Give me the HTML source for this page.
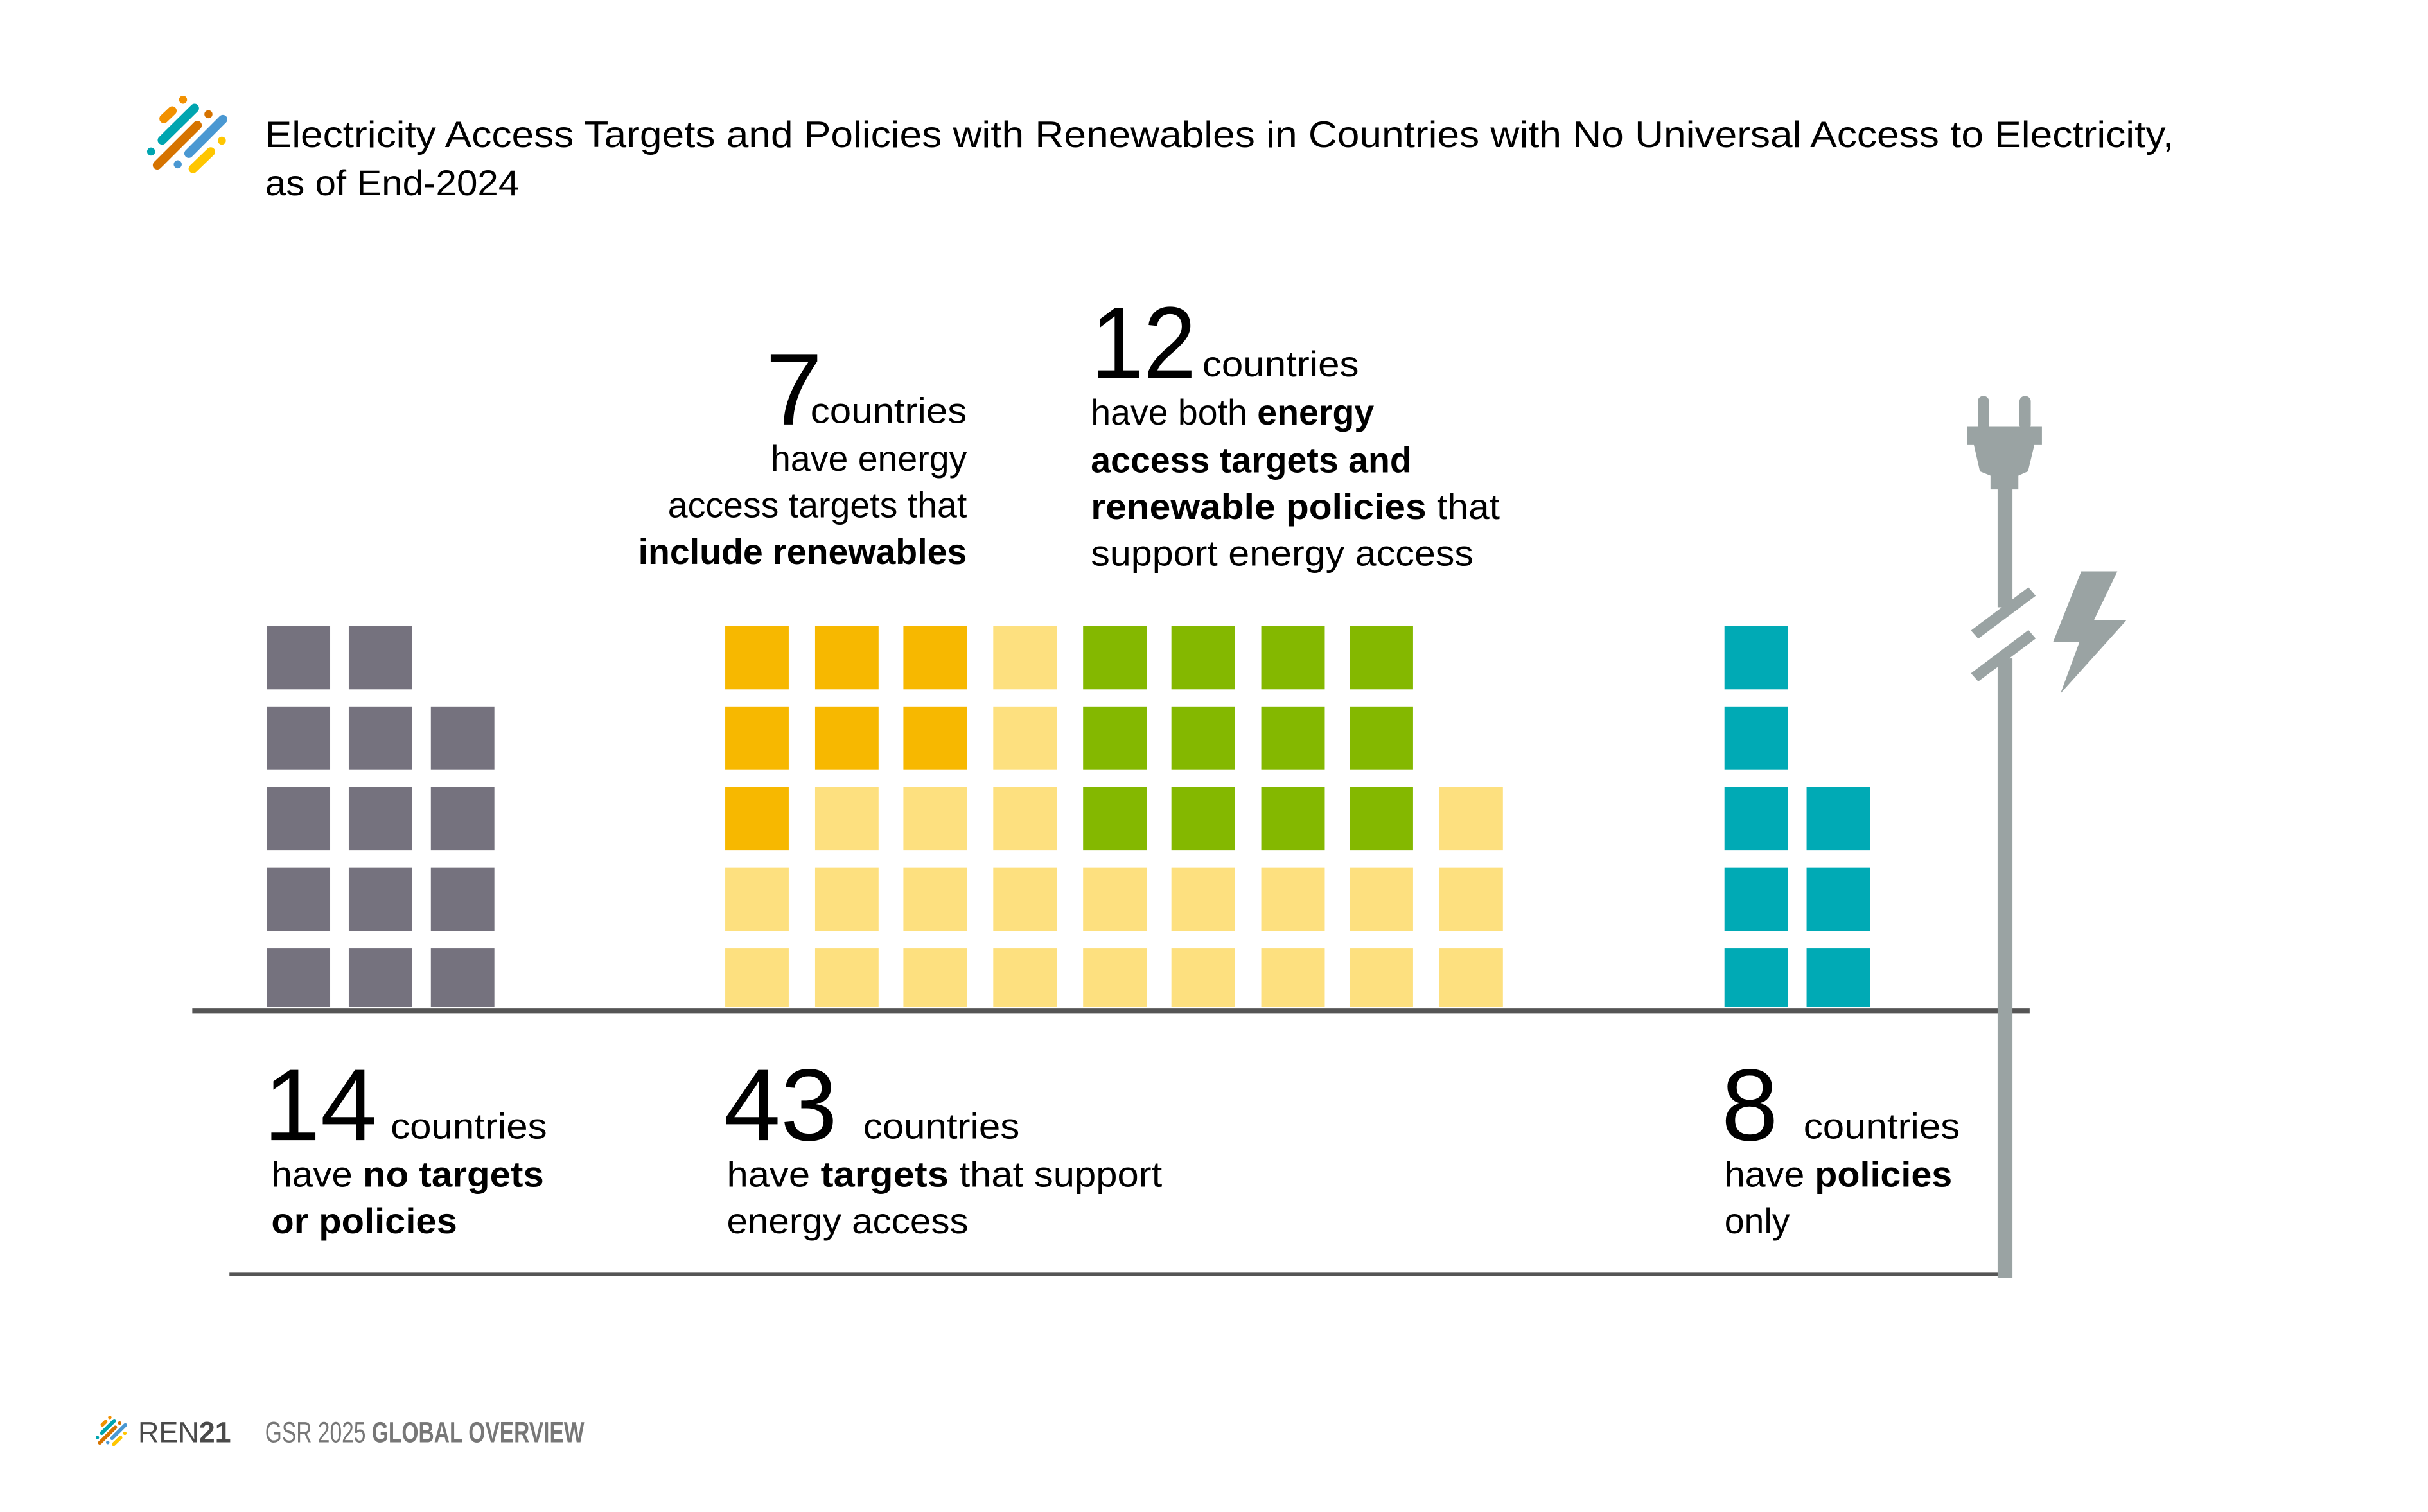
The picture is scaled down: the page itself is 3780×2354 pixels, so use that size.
<!DOCTYPE html>
<html><head><meta charset="utf-8"><style>
html,body{margin:0;padding:0;background:#fff;}
svg{display:block;}
text{font-family:"Liberation Sans",sans-serif;fill:#000;}
</style></head><body>
<svg width="3780" height="2354" viewBox="0 0 1567 976" xmlns="http://www.w3.org/2000/svg">
<rect width="1567" height="976" fill="#fff"/>
<g transform="scale(0.41269)" stroke-linecap="round" fill="none">
<circle cx="286" cy="156" r="6.3" fill="#F29100"/>
<line x1="256" y1="185.7" x2="269" y2="173.3" stroke="#F29100" stroke-width="14"/>
<line x1="253.3" y1="219.3" x2="304" y2="169.3" stroke="#00A5B0" stroke-width="14"/>
<circle cx="325.7" cy="178.7" r="6.3" fill="#D67300"/>
<line x1="245.7" y1="258.3" x2="308.3" y2="196" stroke="#D67300" stroke-width="14"/>
<line x1="295" y1="240" x2="348.3" y2="186.7" stroke="#4A98D2" stroke-width="14"/>
<circle cx="346.7" cy="220" r="6.3" fill="#FFC600"/>
<circle cx="236" cy="237" r="6.3" fill="#00A5B0"/>
<circle cx="277.7" cy="257" r="6.3" fill="#4A98D2"/>
<line x1="301.7" y1="264" x2="329.3" y2="237.3" stroke="#FFC600" stroke-width="14"/>
</g>
<text x="171" y="95" font-size="24" textLength="1232" lengthAdjust="spacingAndGlyphs">Electricity Access Targets and Policies with Renewables in Countries with No Universal Access to Electricity,</text>
<text x="171" y="126" font-size="23" textLength="164" lengthAdjust="spacingAndGlyphs">as of End-2024</text>

<text x="494" y="274" font-size="66">7</text>
<text x="523" y="273" font-size="23" textLength="101" lengthAdjust="spacingAndGlyphs">countries</text>
<g font-size="23" text-anchor="end">
<text x="624" y="304">have energy</text>
<text x="624" y="334">access targets that</text>
<text x="624" y="364" font-weight="bold">include renewables</text>
</g>
<text x="704" y="244" font-size="66" textLength="68" lengthAdjust="spacingAndGlyphs">12</text>
<text x="776" y="243" font-size="23" textLength="101" lengthAdjust="spacingAndGlyphs">countries</text>
<g font-size="23">
<text x="704" y="274">have both <tspan font-weight="bold">energy</tspan></text>
<text x="704" y="305" font-weight="bold">access targets and</text>
<text x="704" y="335" textLength="264" lengthAdjust="spacingAndGlyphs"><tspan font-weight="bold">renewable policies</tspan> that</text>
<text x="704" y="365" textLength="247" lengthAdjust="spacingAndGlyphs">support energy access</text>
</g>

<g fill="#75727E">
<rect x="172" y="404" width="41" height="41"/><rect x="225" y="404" width="41" height="41"/>
<rect x="172" y="456" width="41" height="41"/><rect x="225" y="456" width="41" height="41"/><rect x="278" y="456" width="41" height="41"/>
<rect x="172" y="508" width="41" height="41"/><rect x="225" y="508" width="41" height="41"/><rect x="278" y="508" width="41" height="41"/>
<rect x="172" y="560" width="41" height="41"/><rect x="225" y="560" width="41" height="41"/><rect x="278" y="560" width="41" height="41"/>
<rect x="172" y="612" width="41" height="38"/><rect x="225" y="612" width="41" height="38"/><rect x="278" y="612" width="41" height="38"/>
</g>
<g>
<rect x="468" y="404" width="41" height="41" fill="#F7B800"/><rect x="526" y="404" width="41" height="41" fill="#F7B800"/><rect x="583" y="404" width="41" height="41" fill="#F7B800"/><rect x="641" y="404" width="41" height="41" fill="#FDE07F"/>
<rect x="699" y="404" width="41" height="41" fill="#84B800"/><rect x="756" y="404" width="41" height="41" fill="#84B800"/><rect x="814" y="404" width="41" height="41" fill="#84B800"/><rect x="871" y="404" width="41" height="41" fill="#84B800"/>
<rect x="468" y="456" width="41" height="41" fill="#F7B800"/><rect x="526" y="456" width="41" height="41" fill="#F7B800"/><rect x="583" y="456" width="41" height="41" fill="#F7B800"/><rect x="641" y="456" width="41" height="41" fill="#FDE07F"/>
<rect x="699" y="456" width="41" height="41" fill="#84B800"/><rect x="756" y="456" width="41" height="41" fill="#84B800"/><rect x="814" y="456" width="41" height="41" fill="#84B800"/><rect x="871" y="456" width="41" height="41" fill="#84B800"/>
<rect x="468" y="508" width="41" height="41" fill="#F7B800"/><rect x="526" y="508" width="41" height="41" fill="#FDE07F"/><rect x="583" y="508" width="41" height="41" fill="#FDE07F"/><rect x="641" y="508" width="41" height="41" fill="#FDE07F"/>
<rect x="699" y="508" width="41" height="41" fill="#84B800"/><rect x="756" y="508" width="41" height="41" fill="#84B800"/><rect x="814" y="508" width="41" height="41" fill="#84B800"/><rect x="871" y="508" width="41" height="41" fill="#84B800"/><rect x="929" y="508" width="41" height="41" fill="#FDE07F"/>
</g>
<g fill="#FDE07F">
<rect x="468" y="560" width="41" height="41"/><rect x="526" y="560" width="41" height="41"/><rect x="583" y="560" width="41" height="41"/><rect x="641" y="560" width="41" height="41"/><rect x="699" y="560" width="41" height="41"/><rect x="756" y="560" width="41" height="41"/><rect x="814" y="560" width="41" height="41"/><rect x="871" y="560" width="41" height="41"/><rect x="929" y="560" width="41" height="41"/>
<rect x="468" y="612" width="41" height="38"/><rect x="526" y="612" width="41" height="38"/><rect x="583" y="612" width="41" height="38"/><rect x="641" y="612" width="41" height="38"/><rect x="699" y="612" width="41" height="38"/><rect x="756" y="612" width="41" height="38"/><rect x="814" y="612" width="41" height="38"/><rect x="871" y="612" width="41" height="38"/><rect x="929" y="612" width="41" height="38"/>
</g>
<g fill="#00AAB5">
<rect x="1113" y="404" width="41" height="41"/>
<rect x="1113" y="456" width="41" height="41"/>
<rect x="1113" y="508" width="41" height="41"/><rect x="1166" y="508" width="41" height="41"/>
<rect x="1113" y="560" width="41" height="41"/><rect x="1166" y="560" width="41" height="41"/>
<rect x="1113" y="612" width="41" height="38"/><rect x="1166" y="612" width="41" height="38"/>
</g>

<rect x="124" y="651" width="1186" height="3" fill="#555"/>
<rect x="148" y="821.5" width="1148" height="2" fill="#555"/>

<g fill="#9AA3A3" transform="translate(3,0)">
<rect x="1273.5" y="255.6" width="7.3" height="22" rx="3.5"/>
<rect x="1300.4" y="255.6" width="7.3" height="22" rx="3.5"/>
<polygon points="1266.5,275.5 1314.9,275.5 1314.9,287.3 1310,287.3 1305.9,304.3 1299.7,307 1299.7,316 1281.7,316 1281.7,307 1274.9,304.3 1271,287.3 1266.5,287.3"/>
<rect x="1286.3" y="314" width="9.6" height="78"/>
<polygon points="1269.1,407 1306.2,379.1 1310.9,384.6 1273.8,412.3"/>
<polygon points="1269.1,434.6 1306.2,406.7 1310.9,412.2 1273.8,439.9"/>
<rect x="1286.3" y="425" width="9.6" height="400"/>
</g>
<polygon fill="#9AA3A3" points="1343.3,368.8 1366.6,368.8 1351.6,400.1 1372.7,400.1 1329.9,447.7 1342.2,414.2 1325.2,414.2"/>

<text x="170" y="736" font-size="66">14</text>
<text x="252" y="735" font-size="23" textLength="101" lengthAdjust="spacingAndGlyphs">countries</text>
<text x="175" y="766" font-size="23" textLength="176" lengthAdjust="spacingAndGlyphs">have <tspan font-weight="bold">no targets</tspan></text>
<text x="175" y="796" font-size="23" font-weight="bold" textLength="120" lengthAdjust="spacingAndGlyphs">or policies</text>

<text x="467" y="736" font-size="66">43</text>
<text x="557" y="735" font-size="23" textLength="101" lengthAdjust="spacingAndGlyphs">countries</text>
<text x="469" y="766" font-size="23" textLength="281" lengthAdjust="spacingAndGlyphs">have <tspan font-weight="bold">targets</tspan> that support</text>
<text x="469" y="796" font-size="23" textLength="156" lengthAdjust="spacingAndGlyphs">energy access</text>

<text x="1111" y="736" font-size="66">8</text>
<text x="1164" y="735" font-size="23" textLength="101" lengthAdjust="spacingAndGlyphs">countries</text>
<text x="1113" y="766" font-size="23" textLength="147" lengthAdjust="spacingAndGlyphs">have <tspan font-weight="bold">policies</tspan></text>
<text x="1113" y="796" font-size="23">only</text>

<g transform="translate(25,890) scale(0.16)" stroke-linecap="round" fill="none">
<circle cx="286" cy="156" r="7" fill="#F29100"/>
<line x1="256" y1="185.7" x2="269" y2="173.3" stroke="#F29100" stroke-width="15"/>
<line x1="253.3" y1="219.3" x2="304" y2="169.3" stroke="#00A5B0" stroke-width="15"/>
<circle cx="325.7" cy="178.7" r="7" fill="#D67300"/>
<line x1="245.7" y1="258.3" x2="308.3" y2="196" stroke="#D67300" stroke-width="15"/>
<line x1="295" y1="240" x2="348.3" y2="186.7" stroke="#4A98D2" stroke-width="15"/>
<circle cx="346.7" cy="220" r="7" fill="#FFC600"/>
<circle cx="236" cy="237" r="7" fill="#00A5B0"/>
<circle cx="277.7" cy="257" r="7" fill="#4A98D2"/>
<line x1="301.7" y1="264" x2="329.3" y2="237.3" stroke="#FFC600" stroke-width="15"/>
</g>
<text x="89" y="931" font-size="19" style="fill:#4a4a4a" textLength="60" lengthAdjust="spacingAndGlyphs">REN<tspan font-weight="bold">21</tspan></text>
<text x="171" y="931" font-size="19" style="fill:#777" textLength="206" lengthAdjust="spacingAndGlyphs">GSR 2025 <tspan font-weight="bold">GLOBAL OVERVIEW</tspan></text>
</svg>
</body></html>
